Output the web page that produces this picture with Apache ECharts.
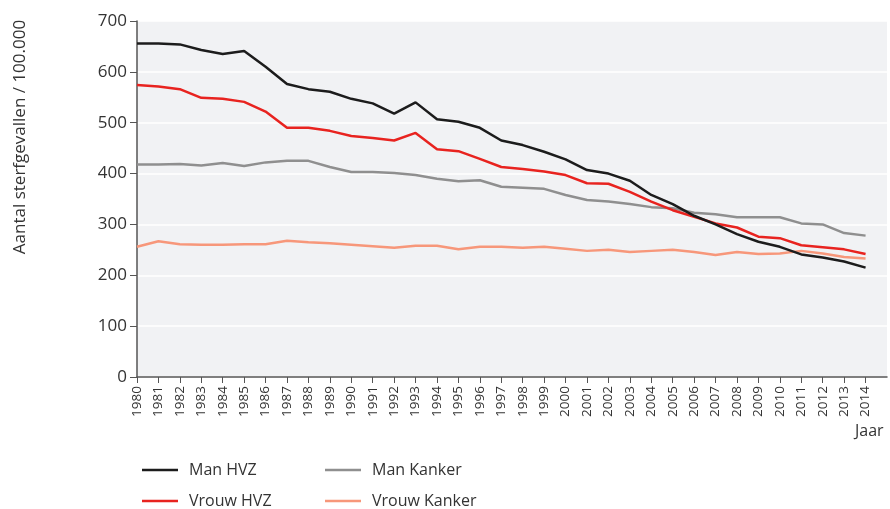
<!DOCTYPE html>
<html>
<head>
<meta charset="utf-8">
<script src="https://cdn.jsdelivr.net/npm/echarts@6/dist/echarts.min.js"></script>
<style>
  html, body { margin: 0; padding: 0; background: #fff; }
  #chart { width: 890px; height: 509px; }
</style>
</head>
<body>
<div id="chart"></div>
<script>
  // jaren 1980 t/m 2014
  var years = ['1980', '1981', '1982', '1983', '1984', '1985', '1986', '1987', '1988', '1989',
    '1990', '1991', '1992', '1993', '1994', '1995', '1996', '1997', '1998', '1999',
    '2000', '2001', '2002', '2003', '2004', '2005', '2006', '2007', '2008', '2009',
    '2010', '2011', '2012', '2013', '2014']
  var manHVZ = [656, 656, 654, 643, 635, 641, 610, 576, 566, 561,
    547, 538, 518, 540, 507, 502, 490, 465, 456, 443,
    428, 407, 400, 386, 358, 340, 317, 300, 281, 266,
    256, 241, 235, 227, 215]
  var vrouwHVZ = [574, 571, 566, 549, 547, 541, 522, 490, 490, 484,
    474, 470, 465, 480, 448, 444, 429, 413, 409, 404,
    397, 381, 380, 364, 345, 328, 315, 302, 294, 276,
    273, 259, 255, 251, 242]
  var manKanker = [418, 418, 419, 416, 421, 415, 422, 425, 425, 413,
    403, 403, 401, 397, 390, 385, 387, 374, 372, 370,
    358, 348, 345, 340, 334, 332, 323, 320, 314, 314,
    314, 302, 300, 283, 278]
  var vrouwKanker = [256, 267, 261, 260, 260, 261, 261, 268, 265, 263,
    260, 257, 254, 258, 258, 251, 256, 256, 254, 256,
    252, 248, 250, 246, 248, 250, 246, 240, 246, 242,
    243, 248, 243, 236, 233]
  var yTicks = [0, 100, 200, 300, 400, 500, 600, 700]

  var font = '"Open Sans", "Noto Sans", sans-serif'
  var txt = '#333'

  function serie (name, data, color) {
    return {
      name: name,
      type: 'line',
      data: data,
      symbol: 'none',
      lineStyle: {color: color, width: 2.5},
      itemStyle: {color: color}
    }
  }

  function legendItem (name, left, top) {
    return {
      data: [name],
      left: left,
      top: top,
      icon: 'rect',
      itemWidth: 36,
      itemHeight: 2.5,
      textStyle: {fontFamily: font, fontSize: 16, color: txt, padding: [0, 0, 0, 6]}
    }
  }

  var chart = echarts.init(document.getElementById('chart'))
  chart.setOption({
    animation: false,
    grid: {
      left: 137,
      right: 3,
      top: 21,
      bottom: 132,
      show: true,
      backgroundColor: '#f1f2f4',
      borderWidth: 0
    },
    legend: [
      legendItem('Man HVZ', 137, 457),
      legendItem('Man Kanker', 320, 457),
      legendItem('Vrouw HVZ', 137, 488),
      legendItem('Vrouw Kanker', 320, 488)
    ],
    xAxis: {
      type: 'category',
      boundaryGap: false,
      data: years.concat(['']),
      axisLine: {lineStyle: {color: '#555', width: 1.5}},
      axisTick: {
        length: 6,
        lineStyle: {color: '#555'},
        interval: function (index, value) { return value !== '' }
      },
      axisLabel: {
        rotate: 90,
        interval: 0,
        margin: 9,
        fontFamily: font,
        fontSize: 13.5,
        color: txt
      },
      splitLine: {show: false}
    },
    yAxis: {
      type: 'value',
      min: yTicks[0],
      max: yTicks[yTicks.length - 1],
      interval: 100,
      axisLine: {show: true, lineStyle: {color: '#555', width: 1.5}},
      axisTick: {show: true, length: 7, lineStyle: {color: '#555'}},
      axisLabel: {margin: 10, fontFamily: font, fontSize: 17, color: txt},
      splitLine: {lineStyle: {color: '#ffffff', width: 1.5}}
    },
    graphic: [
      {
        type: 'text',
        left: 855,
        top: 423,
        style: {text: 'Jaar', fontFamily: font, fontSize: 16, fill: txt}
      },
      {
        type: 'text',
        x: 20,
        y: 137,
        rotation: Math.PI / 2,
        style: {
          text: 'Aantal sterfgevallen / 100.000',
          fontFamily: font,
          fontSize: 17,
          fill: txt,
          align: 'center',
          verticalAlign: 'middle'
        }
      }
    ],
    series: [
      serie('Man Kanker', manKanker, '#8f8f8f'),
      serie('Vrouw Kanker', vrouwKanker, '#f7977a'),
      serie('Vrouw HVZ', vrouwHVZ, '#e8231f'),
      serie('Man HVZ', manHVZ, '#1c1c1c')
    ]
  })
</script>
</body>
</html>
